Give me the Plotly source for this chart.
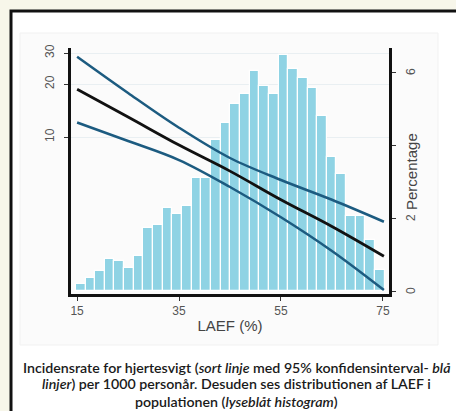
import plotly.graph_objects as go
import numpy as np

# ---- data ----
# histogram of LAEF (percentage per bin)
hist_first_center = 15.7
hist_bin_width = 1.894
hist_pct = [0.19, 0.35, 0.54, 0.88, 0.82, 0.64, 0.97, 1.72, 1.82, 2.27, 2.10, 2.32,
            3.10, 3.10, 4.13, 4.61, 5.13, 5.41, 6.04, 5.63, 5.41, 6.47, 6.08, 5.85,
            5.57, 4.79, 3.68, 3.22, 2.05, 2.06, 1.39, 0.59]
hist_centers = hist_first_center + hist_bin_width * np.arange(len(hist_pct))

# incidence rate per 1000 person-years with 95% CI
laef = [15, 25, 35, 45, 55, 65, 75.2]
rate = [18.7, 13.0, 9.0, 6.4, 4.4, 3.1, 2.1]
ci_upper = [28.6, 17.8, 11.3, 7.6, 5.7, 4.4, 3.3]
ci_lower = [12.1, 9.5, 7.4, 5.2, 3.5, 2.25, 1.35]

x_ticks = [15, 35, 55, 75]
rate_ticks = [10, 20, 30]
pct_ticks = [0, 2, 4, 6]
pct_ticktext = ["0", "2", "", "6"]

caption_lines = [
    "Incidensrate for hjertesvigt (<i>sort linje</i> med 95% konfidensinterval- <i>blå</i>",
    "<i>linjer</i>) per 1000 personår. Desuden ses distributionen af LAEF i",
    "populationen (<i>lyseblåt histogram</i>)",
]

BAR = "#8fd3e4"
CI = "#1c5b80"
INK = "#555555"

fig = go.Figure()
fig.add_trace(go.Bar(x=hist_centers, y=hist_pct, width=hist_bin_width,
                     marker=dict(color=BAR, line=dict(color="white", width=1.2)),
                     yaxis="y", showlegend=False))
fig.add_trace(go.Scatter(x=laef, y=ci_upper, mode="lines", line=dict(color=CI, width=2.5, shape="spline"),
                         yaxis="y2", showlegend=False))
fig.add_trace(go.Scatter(x=laef, y=ci_lower, mode="lines", line=dict(color=CI, width=2.5, shape="spline"),
                         yaxis="y2", showlegend=False))
fig.add_trace(go.Scatter(x=laef, y=rate, mode="lines", line=dict(color="#111111", width=2.8, shape="spline"),
                         yaxis="y2", showlegend=False))

L, R, T, B = 71, 67, 48, 117
W, H = 456, 411
pw, ph = W - L - R, H - T - B

def px(xp):
    return (xp - L) / pw

def py(yp):
    return (H - B - yp) / ph

shapes = [
    dict(type="rect", xref="paper", yref="paper", x0=px(11), x1=px(470), y0=py(430), y1=py(11),
         fillcolor="white", line=dict(color="#111111", width=3), layer="below"),
    dict(type="rect", xref="paper", yref="paper", x0=px(20), x1=px(438), y0=py(345), y1=py(33),
         fillcolor="#fbfbfb", line=dict(color="#f1f1f1", width=1), layer="below"),
]

annotations = [
    dict(text=t, xref="paper", yref="y", x=px(411), y=v, textangle=-90, xanchor="center",
         yanchor="middle", showarrow=False, font=dict(size=12, color=INK))
    for v, t in zip(pct_ticks, pct_ticktext) if t
]
annotations.append(
    dict(text="Percentage", xref="paper", yref="paper", x=px(411), y=py(172), textangle=-90,
         xanchor="center", yanchor="middle", showarrow=False, font=dict(size=15, color="#444")))
for line_text, ypix in zip(caption_lines, [367, 384, 401]):
    annotations.append(
        dict(text=line_text, xref="paper", yref="paper", x=px(236), y=py(ypix),
             xanchor="center", yanchor="middle", showarrow=False,
             font=dict(family="Lato, sans-serif", size=14.2, color="#1a1a1a", weight=600)))

fig.update_layout(
    width=W, height=H,
    margin=dict(l=L, r=R, t=T, b=B),
    paper_bgcolor="#f7f6ea",
    plot_bgcolor="rgba(0,0,0,0)",
    bargap=0,
    font=dict(family="Liberation Sans, Arial, sans-serif", color=INK, size=12),
    xaxis=dict(range=[13.8, 76.2], tickvals=x_ticks, ticks="outside", ticklen=4, tickcolor="#333",
               showline=True, linecolor="#111", linewidth=2.5, showgrid=False, zeroline=False,
               tickfont=dict(size=12, color=INK),
               title=dict(text="LAEF (%)", font=dict(size=15, color="#444"), standoff=4)),
    yaxis=dict(side="right", range=[-0.08, 6.66], tickvals=pct_ticks, showticklabels=False,
               ticks="outside", ticklen=4, tickcolor="#333",
               showline=True, linecolor="#111", linewidth=2.5, showgrid=False, zeroline=False),
    yaxis2=dict(type="log", side="left", overlaying="y", range=[0.108, 1.506], tickvals=rate_ticks,
                ticks="outside", ticklen=4, tickcolor="#333", tickangle=-90,
                showline=True, linecolor="#111", linewidth=2.5, showgrid=True, gridcolor="#e9eff2",
                gridwidth=1, zeroline=False, tickfont=dict(size=12, color=INK), ticklabelstandoff=5),
    shapes=shapes,
    annotations=annotations,
)

fig.write_html("out.html", config={"displayModeBar": False},
               post_script="document.body.style.margin='0';document.body.style.overflow='hidden';")
